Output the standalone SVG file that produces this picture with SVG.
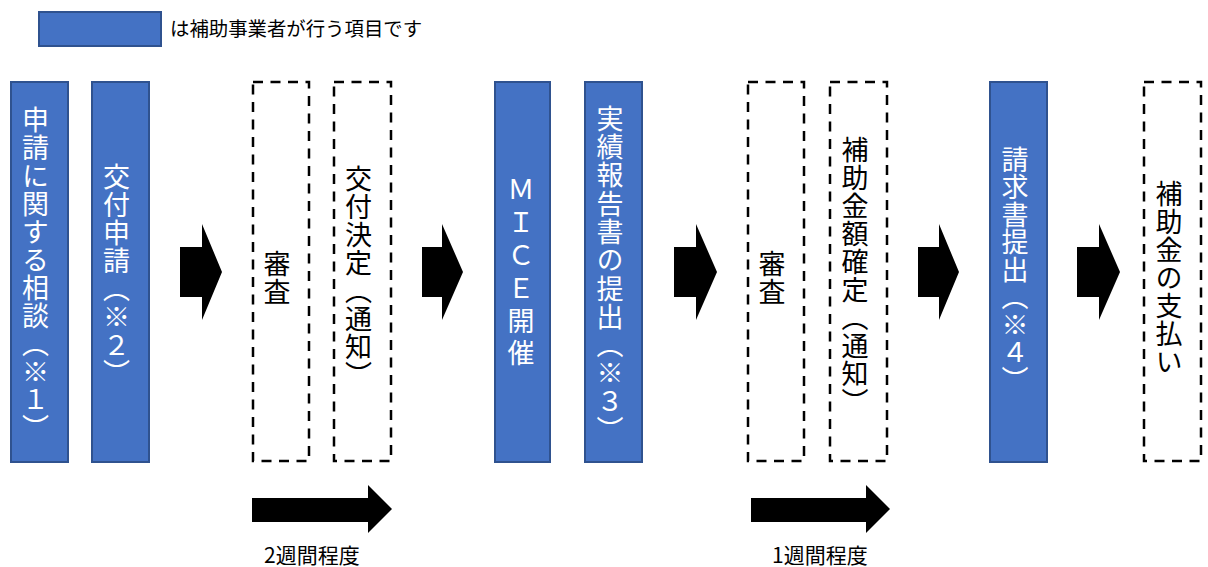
<svg xmlns="http://www.w3.org/2000/svg" width="1208" height="567" viewBox="0 0 1208 567">
<style>
.blue{fill:#4472C4;stroke:#2F528F;stroke-width:2}
.dash{fill:none;stroke:#000;stroke-width:2.5;stroke-dasharray:10 7.5}
.v{font-family:"Noto Sans CJK JP","Noto Sans",sans-serif;font-size:27px;writing-mode:vertical-rl;letter-spacing:1px}
.w{fill:#fff}
.k{fill:#000}
.h{font-family:"Noto Sans CJK JP","Noto Sans",sans-serif;fill:#000}
.arr{fill:#000}
</style>
<rect width="1208" height="567" fill="#fff"/>
<g id="legend">
<rect class="blue" x="39" y="12" width="122" height="34"/>
<text class="h" x="170" y="36" font-size="19.4">は補助事業者が行う項目です</text>
</g>
<g id="n1"><rect class="blue" x="11" y="82" width="57" height="380"/><text class="v w" x="35.5" y="106">申請に関する相談（※１）</text></g>
<g id="n2"><rect class="blue" x="92" y="82" width="57" height="380"/><text class="v w" x="116.5" y="163">交付申請（※２）</text></g>
<g id="n3"><rect class="dash" x="253" y="82" width="56" height="379"/><text class="v k" x="277" y="250">審査</text></g>
<g id="n4"><rect class="dash" x="334" y="82" width="57" height="379"/><text class="v k" x="358.5" y="165">交付決定（通知）</text></g>
<g id="n5"><rect class="blue" x="495" y="82" width="55" height="380"/><text class="v w" x="521" y="176" style="letter-spacing:5.7px">ＭＩＣＥ開催</text></g>
<g id="n6"><rect class="blue" x="585" y="82" width="57" height="380"/><text class="v w" x="610" y="105" style="letter-spacing:1.3px">実績報告書の提出（※３）</text></g>
<g id="n7"><rect class="dash" x="748" y="82" width="56" height="379"/><text class="v k" x="772" y="250">審査</text></g>
<g id="n8"><rect class="dash" x="830" y="82" width="57" height="379"/><text class="v k" x="855" y="136">補助金額確定（通知）</text></g>
<g id="n9"><rect class="blue" x="990" y="82" width="57" height="380"/><text class="v w" x="1015" y="146" style="letter-spacing:0.5px">請求書提出（※４）</text></g>
<g id="n10"><rect class="dash" x="1144" y="82" width="57" height="379"/><text class="v k" x="1169" y="180">補助金の支払い</text></g>
<g id="connectors">
<polygon class="arr" points="180,247 202,247 202,224 222,272 202,320 202,297 180,297"/>
<polygon class="arr" points="422,247 442,247 442,224 463,272 442,320 442,297 422,297"/>
<polygon class="arr" points="674,247 696,247 696,224 717,272 696,320 696,297 674,297"/>
<polygon class="arr" points="918,247 939,247 939,224 959,272 939,320 939,297 918,297"/>
<polygon class="arr" points="1077,247 1099,247 1099,224 1120,272 1099,320 1099,297 1077,297"/>
<polygon class="arr" points="252,498 368,498 368,485 392,509 368,533 368,522 252,522"/>
<polygon class="arr" points="751,498 866,498 866,485 890,509 866,533 866,522 751,522"/>
</g>
<g id="labels">
<text class="h" x="264" y="563" font-size="21">2週間程度</text>
<text class="h" x="772" y="563" font-size="21">1週間程度</text>
</g>
</svg>
